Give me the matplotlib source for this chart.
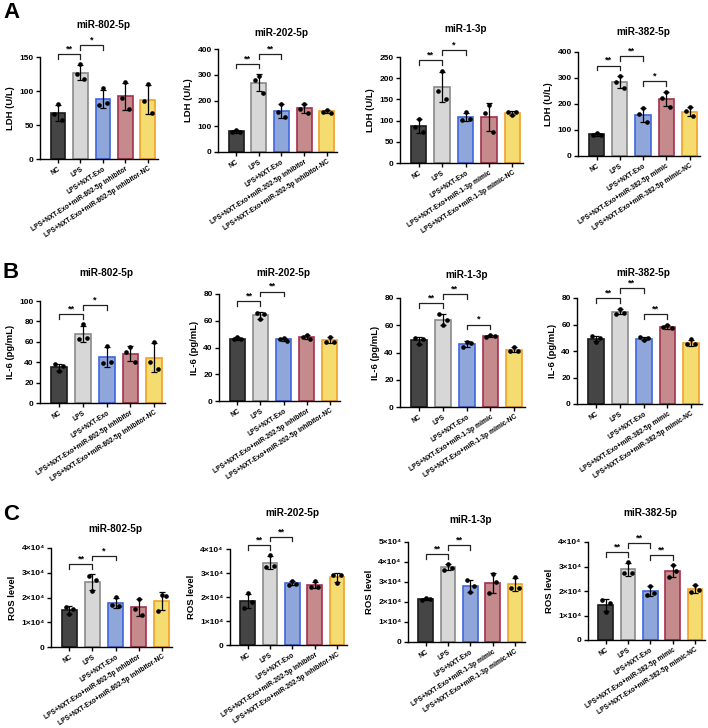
import matplotlib
matplotlib.use("Agg")
import matplotlib.pyplot as plt
import numpy as np

plt.rcParams["font.family"] = ["Liberation Sans Narrow", "Liberation Sans", "DejaVu Sans"]
plt.rcParams["font.weight"] = "bold"
plt.rcParams["axes.linewidth"] = 1.0

W, H = 708, 728

mirnas = ["miR-802-5p", "miR-202-5p", "miR-1-3p", "miR-382-5p"]
agents = ["inhibitor", "inhibitor", "mimic", "mimic"]

# LDH (U/L) - trois réplicats par groupe
ldh_802 = [[81, 66, 57], [139, 125, 117], [104, 80, 82], [113, 90, 73], [110, 85, 67]]
ldh_202 = [[87, 78, 76], [296, 280, 231], [188, 157, 135], [188, 168, 152], [165, 155, 152]]
ldh_1 = [[104, 86, 72], [218, 170, 150], [120, 102, 104], [136, 118, 72], [113, 121, 121]]
ldh_382 = [[90, 80, 80], [308, 285, 263], [186, 160, 132], [245, 225, 190], [187, 172, 153]]

# IL-6 (pg/mL)
il6_802 = [[31, 38, 36], [77, 63, 64], [56, 39, 40], [55, 50, 40], [60, 40, 33]]
il6_202 = [[48, 46, 46], [61, 66, 65], [47, 46, 45], [49, 48, 46], [48, 44, 44]]
il6_1 = [[46, 51, 50], [60, 68, 64], [48, 44, 47], [52.5, 51.5, 52], [44, 41, 41]]
il6_382 = [[47, 51, 50], [72, 68, 69], [48, 50.5, 49.5], [60, 58, 57], [49, 45, 45]]

# ROS level
ros_802 = [[13200, 16300, 15500], [22500, 28800, 27000], [20300, 16800, 16600], [19500, 15500, 13000], [21000, 14500, 20500]]
ros_202 = [[21500, 15500, 17800], [37500, 32500, 33000], [26800, 25200, 25500], [26500, 24200, 24300], [26000, 29300, 29300]]
ros_1 = [[22200, 21000, 21500], [39000, 36000, 37000], [25000, 31000, 28000], [34200, 24500, 30000], [32500, 27000, 27000]]
ros_382 = [[11500, 16500, 15000], [31800, 27200, 27500], [22200, 18200, 19200], [30500, 25800, 28200], [22500, 19500, 20500]]

ldh_ymax = [150, 400, 250, 400]
ldh_step = [50, 100, 50, 100]
il6_ymax = [100, 80, 80, 80]
il6_step = [20, 20, 20, 20]
ros_ymax = [40000, 40000, 50000, 40000]
ros_step = [10000, 10000, 10000, 10000]

# comparaisons significatives (groupe i, groupe j, étoiles)
br_ldh = [[(0, 1, "**"), (1, 2, "*")], [(0, 1, "**"), (1, 2, "**")],
          [(0, 1, "**"), (1, 2, "*")], [(0, 1, "**"), (1, 2, "**"), (2, 3, "*")]]
br_il6 = [[(0, 1, "**"), (1, 2, "*")], [(0, 1, "**"), (1, 2, "**")],
          [(0, 1, "**"), (1, 2, "**"), (2, 3, "*")], [(0, 1, "**"), (1, 2, "**"), (2, 3, "**")]]
br_ros = [[(0, 1, "**"), (1, 2, "*")], [(0, 1, "**"), (1, 2, "**")],
          [(0, 1, "**"), (1, 2, "**")], [(0, 1, "**"), (1, 2, "**"), (2, 3, "**")]]

face_colors = ["#454545", "#d7d7d7", "#8ea6d9", "#c48a8c", "#f5dc70"]
edge_colors = ["#1a1a1a", "#8a8a8a", "#3f66de", "#a3304f", "#f2a02a"]

# mise en page (pixels) : gauche, droite, y=0, y=max, y du titre
layout_px = [
    [(40, 158, 159, 57, 25), (218, 337, 152, 49, 33), (400, 523, 163, 57, 29), (578, 700, 156, 52, 32)],
    [(40, 165, 403, 301, 273), (219, 340, 401, 294, 273), (400, 525, 407, 298, 275), (577, 702, 404, 298, 273)],
    [(51, 172, 647, 548, 529), (230, 347, 645, 549, 513), (408, 525, 642, 542, 520), (588, 705, 640, 542, 513)],
]


def group_labels(k):
    base = f"LPS+NXT-Exo+{mirnas[k]} {agents[k]}"
    return ["NC", "LPS", "LPS+NXT-Exo", base, base + "-NC"]


def ros_fmt(v, pos):
    if v == 0:
        return "0"
    return f"{int(round(v / 1e4))}×10⁴"


def draw_panel(fig, box, groups, ymax, step, brackets, k, ylabel, sci=False):
    left, right, y0, ytop, ty = box
    ax = fig.add_axes([left / W, 1 - y0 / H, (right - left) / W, (y0 - ytop) / H])
    x = np.arange(len(groups))
    means = [np.mean(g) for g in groups]
    sds = [np.std(g, ddof=1) for g in groups]
    ax.bar(x, means, width=0.66, color=face_colors, edgecolor=edge_colors,
           linewidth=1.2, zorder=1)
    ax.errorbar(x, means, yerr=sds, fmt="none", ecolor="black", elinewidth=0.9,
                capsize=2.2, capthick=0.9, zorder=2)
    offsets = [0.0, -0.17, 0.17]
    for i, g in enumerate(groups):
        ax.scatter(x[i] + np.array(offsets[:len(g)]), g, s=11, color="black",
                   zorder=3, linewidths=0)

    # crochets de significativité
    placed = []
    for i, j, stars in brackets:
        tops = [max(means[m] + sds[m], max(groups[m])) for m in range(i, j + 1)]
        y = max(tops) + 0.10 * ymax
        for (pi, pj, py) in placed:
            if pi <= j and i <= pj and abs(y - py) < 0.09 * ymax:
                y = py + 0.09 * ymax
        placed.append((i, j, y))
        drop = 0.045 * ymax
        ax.plot([i, i, j, j], [y - drop, y, y, y - drop], color="#222222",
                lw=0.9, clip_on=False, zorder=4)
        ax.text((i + j) / 2, y + 0.005 * ymax, stars, ha="center", va="bottom",
                fontsize=6.5, fontweight="bold", clip_on=False)

    ax.set_xlim(-0.8, 4.45)
    ax.set_ylim(0, ymax)
    ax.set_yticks(np.arange(0, ymax + step / 2, step))
    if sci:
        ax.yaxis.set_major_formatter(plt.FuncFormatter(ros_fmt))
    ax.set_xticks(x)
    ax.set_xticklabels(group_labels(k), rotation=33, ha="right",
                       rotation_mode="anchor", fontsize=4.8, fontweight="bold")
    ax.tick_params(axis="y", labelsize=6, length=3, width=1, pad=1.5)
    ax.tick_params(axis="x", length=3, width=1, pad=1.5)
    for lbl in ax.get_yticklabels():
        lbl.set_fontweight("bold")
    ax.spines["top"].set_visible(False)
    ax.spines["right"].set_visible(False)
    ax.set_ylabel(ylabel, fontsize=6.8, fontweight="bold", labelpad=3)
    fig.text((left + right) / 2 / W + 0.006, 1 - ty / H, mirnas[k], ha="center",
             va="center", fontsize=7.2, fontweight="bold")
    return ax


fig = plt.figure(figsize=(W / 100, H / 100), dpi=100)

rows = [
    ([ldh_802, ldh_202, ldh_1, ldh_382], ldh_ymax, ldh_step, br_ldh, "LDH (U/L)", False),
    ([il6_802, il6_202, il6_1, il6_382], il6_ymax, il6_step, br_il6, "IL-6 (pg/mL)", False),
    ([ros_802, ros_202, ros_1, ros_382], ros_ymax, ros_step, br_ros, "ROS level", True),
]

for r, (datasets, ymaxs, steps, brs, ylab, sci) in enumerate(rows):
    for k in range(4):
        draw_panel(fig, layout_px[r][k], datasets[k], ymaxs[k], steps[k], brs[k],
                   k, ylab, sci)

for letter, ypx in zip(["A", "B", "C"], [12, 272, 515]):
    fig.text(3 / W, 1 - ypx / H, letter, fontsize=16, fontweight="bold",
             family=["Liberation Sans", "DejaVu Sans"], ha="left", va="center")

fig.savefig("out.png", dpi=100)
plt.close(fig)
